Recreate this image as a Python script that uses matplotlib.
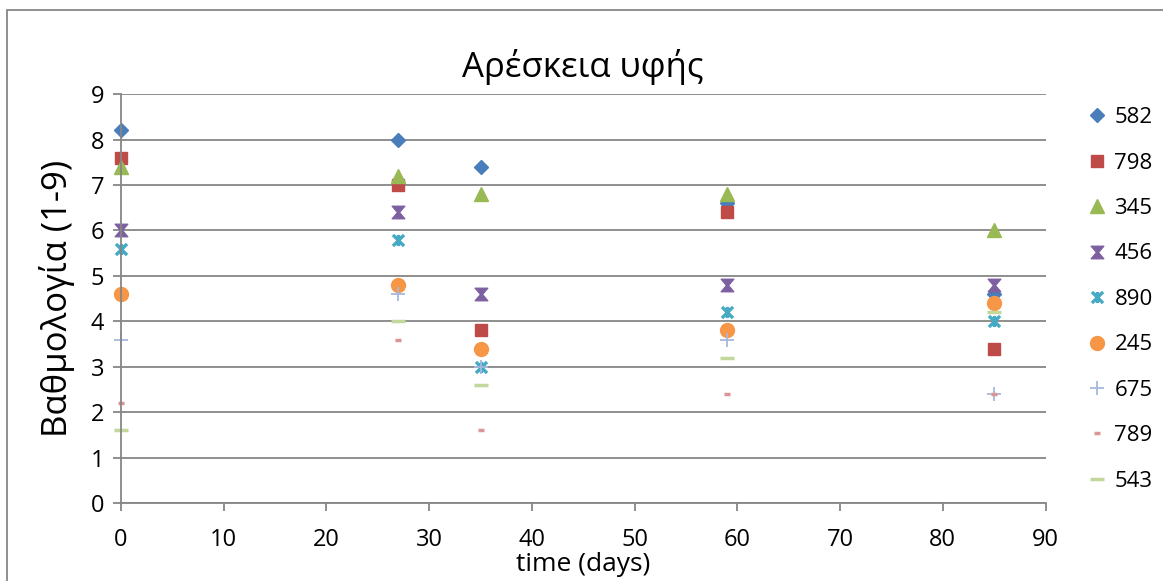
import matplotlib.pyplot as plt
import numpy as np
from matplotlib.path import Path
from matplotlib.patches import Rectangle

plt.rcParams['font.family'] = ['Open Sans', 'DejaVu Sans']

days = [0, 27, 35, 59, 85]
s582 = [8.2, 8.0, 7.4, 6.6, 4.6]
s798 = [7.6, 7.0, 3.8, 6.4, 3.4]
s345 = [7.4, 7.2, 6.8, 6.8, 6.0]
s456 = [6.0, 6.4, 4.6, 4.8, 4.8]
s890 = [5.6, 5.8, 3.0, 4.2, 4.0]
s245 = [4.6, 4.8, 3.4, 3.8, 4.4]
s675 = [3.6, 4.6, 3.0, 3.6, 2.4]
s789 = [2.2, 3.6, 1.6, 2.4, 2.4]
s543 = [1.6, 4.0, 2.6, 3.2, 4.2]

# hourglass and asterisk-like markers
hourglass = Path([(-1, 1), (1, 1), (0.15, 0), (1, -1), (-1, -1), (-0.15, 0), (-1, 1)],
                 [Path.MOVETO] + [Path.LINETO] * 5 + [Path.CLOSEPOLY])
star = Path([(-1, -1), (1, 1), (-1, 1), (1, -1), (0, -1), (0, 1)],
            [Path.MOVETO, Path.LINETO, Path.MOVETO, Path.LINETO, Path.MOVETO, Path.LINETO])

series = [
    ('582', s582, dict(marker='D', color='#4A7EBB', ms=7)),
    ('798', s798, dict(marker='s', color='#BE4B48', ms=9)),
    ('345', s345, dict(marker='^', color='#98B954', ms=10)),
    ('456', s456, dict(marker=hourglass, color='#7D60A0', ms=9)),
    ('890', s890, dict(marker=star, color='#46AAC5', ms=8, mew=2.4, fillstyle='none')),
    ('245', s245, dict(marker='o', color='#F79646', ms=10)),
    ('675', s675, dict(marker='+', color='#A5B8DE', ms=10, mew=1.3)),
    ('789', s789, dict(marker='_', color='#D99694', ms=5, mew=2.5)),
    ('543', s543, dict(marker='_', color='#C3D69B', ms=10, mew=2.5)),
]

fig = plt.figure(figsize=(11.63, 5.81), dpi=100)
ax = fig.add_axes([0.104, 0.134, 0.795, 0.704])

for name, vals, st in series:
    ax.plot(days, vals, linestyle='none', label=name, **st)

ax.set_xlim(0, 90)
ax.set_ylim(0, 9)
ax.set_xticks(np.arange(0, 91, 10))
ax.set_yticks(np.arange(0, 10, 1))
ax.yaxis.grid(True, color='#868686', linewidth=1.3)
ax.set_axisbelow(True)
for side in ['top', 'right']:
    ax.spines[side].set_visible(False)
for side in ['left', 'bottom']:
    ax.spines[side].set_color('#868686')
    ax.spines[side].set_linewidth(1.3)
ax.tick_params(axis='both', labelsize=17, color='#868686', width=1.3, length=6)
ax.tick_params(axis='x', pad=12)
ax.tick_params(axis='y', pad=6)
for ln in ax.lines:
    ln.set_clip_on(False)

ax.set_title('Αρέσκεια υφής', fontsize=25, pad=12)
ax.set_ylabel('Βαθμολογία (1-9)', fontsize=25, labelpad=11)
ax.set_xlabel('time (days)', fontsize=19, labelpad=0)

ax.legend(loc='upper left', bbox_to_anchor=(1.03, 0.99), frameon=False,
          fontsize=16, labelspacing=1.1, handletextpad=0.15, handlelength=1.3,
          borderaxespad=0)

# chart area border, running off the right and bottom edges
fig.patches.append(Rectangle((0.006, -0.1), 1.2, 1.083, transform=fig.transFigure,
                             fill=False, edgecolor='#868686', linewidth=1.3))

fig.savefig('out.png', dpi=100)
